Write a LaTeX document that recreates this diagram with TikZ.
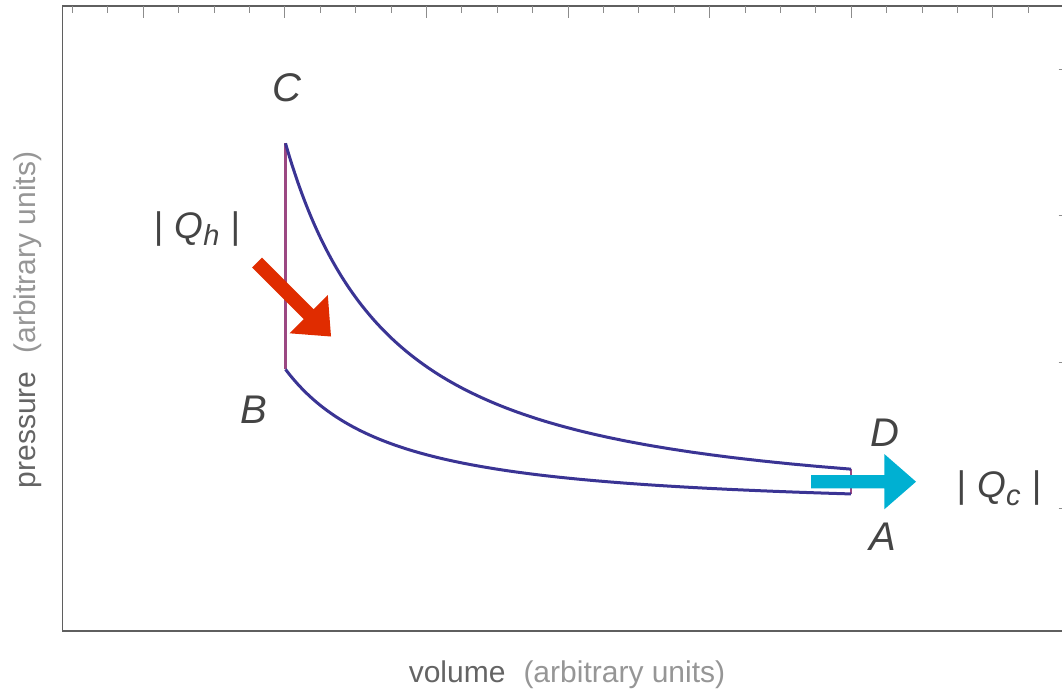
\documentclass[tikz,border=0pt]{standalone}
\usepackage{fontspec}
\setmainfont{Liberation Sans}
\definecolor{curvecol}{RGB}{58,52,148}
\definecolor{vertcol}{RGB}{155,72,130}
\definecolor{hotcol}{RGB}{224,44,0}
\definecolor{coldcol}{RGB}{0,176,210}
\definecolor{labcol}{RGB}{68,68,68}
\definecolor{axdark}{RGB}{100,100,100}
\definecolor{axlight}{RGB}{150,150,150}
\definecolor{framecol}{RGB}{95,95,95}
\definecolor{tickcol}{RGB}{140,140,140}
\tikzset{
  framestyle/.style={draw=framecol, line width=1.3pt},
  tickstyle/.style={draw=tickcol, line width=1pt},
  curvestyle/.style={draw=curvecol, line width=3pt},
  vertstyle/.style={draw=vertcol, line width=2.6pt},
  ptlabel/.style={text=labcol, inner sep=0pt, font=\fontsize{40}{44}\selectfont\itshape},
  qlabel/.style={text=labcol, inner sep=0pt, font=\fontsize{37}{40}\selectfont},
  axlabel/.style={inner sep=0pt, font=\fontsize{30}{34}\selectfont}
}
\newcommand{\qsub}[1]{\textit{Q}\raisebox{-0.2em}{\fontsize{29}{30}\selectfont\textit{#1}}}
\begin{document}
\begin{tikzpicture}[x=1pt,y=-1pt]
\useasboundingbox (0,0) rectangle (1062,689);
% frame
\draw[framestyle] (1062,6) -- (62.5,6) -- (62.5,631) -- (1062,631);
\foreach \k in {0,...,27} \draw[tickstyle] ({72.5+35.4*\k},6) -- ++(0,7);
\foreach \k in {0,...,6} \draw[tickstyle] ({143.3+141.6*\k},6) -- ++(0,12);
\foreach \yy in {69,215.5,362,508.5} \draw[tickstyle] (1058.5,\yy) -- (1062,\yy);
% cycle points
\coordinate (C) at (285.5,143.3);
\coordinate (B) at (285.5,369.3);
\coordinate (D) at (851,469.3);
\coordinate (A) at (851,494);
\draw[vertstyle] (B) -- (C);
\draw[vertstyle] (D) -- (A);
\draw[curvestyle] plot[domain=285.5:851, samples=160, smooth] (\x,{509.3-366*(146.9/(\x-138.6))^1.4});
\draw[curvestyle] plot[domain=285.5:851, samples=160, smooth] (\x,{509.3-140*(146.9/(\x-138.6))^1.4});
% heat arrows
\fill[hotcol] (252.05,267.45) -- (261.95,257.55) -- (313.65,309.25) -- (327.8,295.1) -- (331,336.5) -- (289.6,333.3) -- (303.75,319.15) -- cycle;
\fill[coldcol] (811,475) -- (884.3,475) -- (884.3,454) -- (916,481.7) -- (884.3,509.3) -- (884.3,488.3) -- (811,488.3) -- cycle;
% labels
\node[ptlabel] (lC) at (287,88) {C};
\node[ptlabel] (lB) at (254,410) {B};
\node[ptlabel] (lD) at (885,433) {D};
\node[ptlabel] (lA) at (883,536.5) {A};
\node[qlabel] (qh) at (197,229) {|\hspace{0.3em}\qsub{h}\hspace{0.3em}|};
\node[qlabel] (qc) at (999,488.3) {|\hspace{0.3em}\qsub{c}\hspace{0.3em}|};
% axis labels
\node[axlabel, anchor=base] (xlab) at (567,682) {\textcolor{axdark}{volume}\hspace{0.6em}\textcolor{axlight}{(arbitrary units)}};
\node[axlabel, rotate=90] (ylab) at (28,320) {\textcolor{axdark}{pressure}\hspace{0.6em}\textcolor{axlight}{(arbitrary units)}};
\end{tikzpicture}
\end{document}
